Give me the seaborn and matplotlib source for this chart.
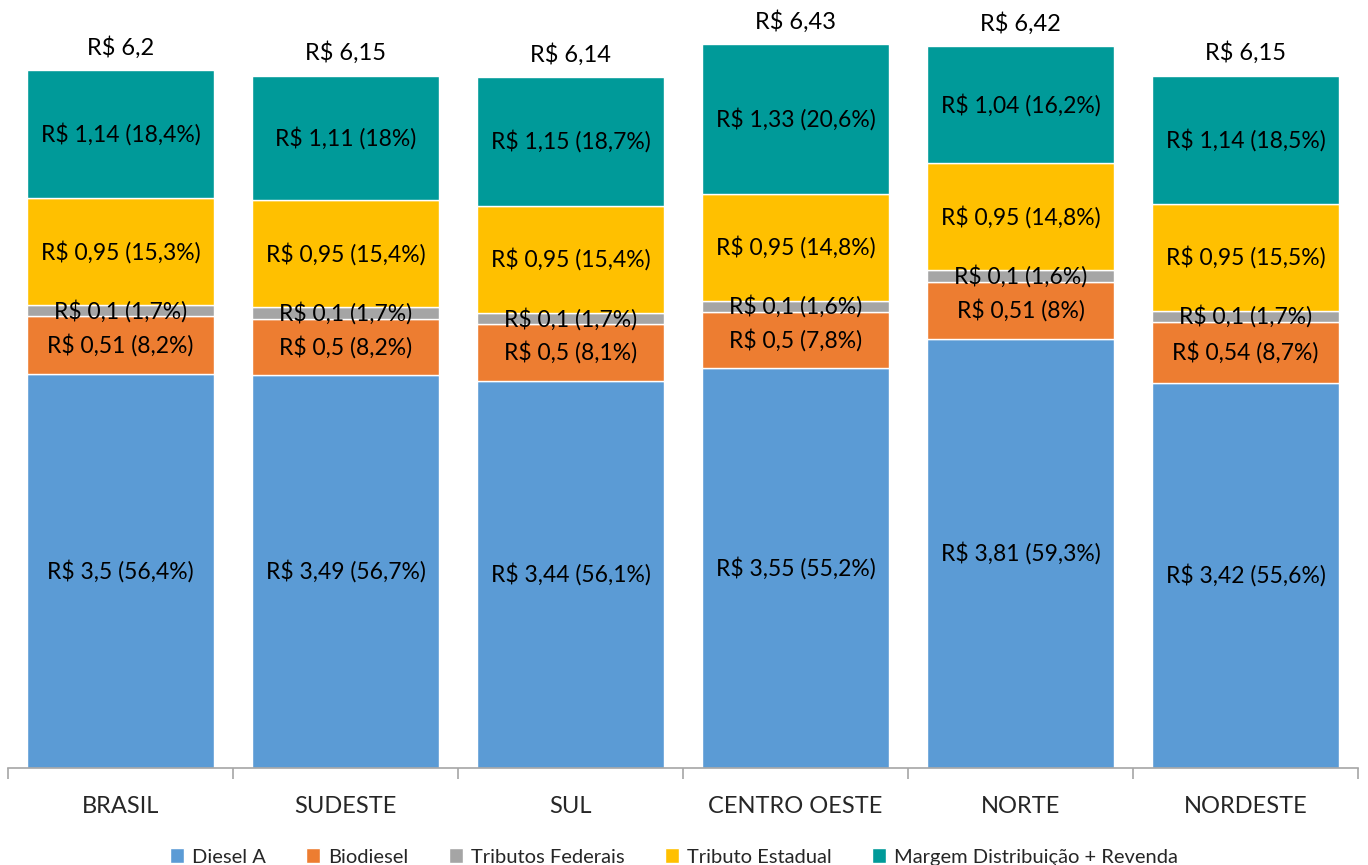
import matplotlib
import numpy as np
import matplotlib.pyplot as plt
plt.switch_backend('agg')
import pandas as pd
import seaborn as sns

regions = ['BRASIL', 'SUDESTE', 'SUL', 'CENTRO OESTE', 'NORTE', 'NORDESTE']
series = ['Diesel A', 'Biodiesel', 'Tributos Federais', 'Tributo Estadual', 'Margem Distribuição + Revenda']

diesel_a = [3.5, 3.49, 3.44, 3.55, 3.81, 3.42]
biodiesel = [0.51, 0.5, 0.5, 0.5, 0.51, 0.54]
trib_fed = [0.1, 0.1, 0.1, 0.1, 0.1, 0.1]
trib_est = [0.95, 0.95, 0.95, 0.95, 0.95, 0.95]
margem = [1.14, 1.11, 1.15, 1.33, 1.04, 1.14]
totals = ['6,2', '6,15', '6,14', '6,43', '6,42', '6,15']

pct_diesel_a = ['56,4', '56,7', '56,1', '55,2', '59,3', '55,6']
pct_biodiesel = ['8,2', '8,2', '8,1', '7,8', '8', '8,7']
pct_trib_fed = ['1,7', '1,7', '1,7', '1,6', '1,6', '1,7']
pct_trib_est = ['15,3', '15,4', '15,4', '14,8', '14,8', '15,5']
pct_margem = ['18,4', '18', '18,7', '20,6', '16,2', '18,5']

colors = ['#5B9BD5', '#ED7D31', '#A5A5A5', '#FFC000', '#009A99']

sns.set_style('white')
plt.rcParams['font.family'] = ['Lato', 'DejaVu Sans']

values = [diesel_a, biodiesel, trib_fed, trib_est, margem]
pcts = [pct_diesel_a, pct_biodiesel, pct_trib_fed, pct_trib_est, pct_margem]

fig = plt.figure(figsize=(13.68, 8.65), dpi=100)
ax = fig.add_axes([8 / 1368, 97 / 865, 1350 / 1368, 6.8 * 112.6 / 865])

bottom = np.zeros(len(regions))
for name, vals, pc, col in zip(series, values, pcts, colors):
    df = pd.DataFrame({'regiao': regions, 'valor': vals})
    sns.barplot(data=df, x='regiao', y='valor', bottom=bottom, color=col,
                width=0.83, edgecolor='white', linewidth=1, saturation=1,
                label=name, ax=ax)
    for i, v in enumerate(vals):
        txt = 'R$ ' + str(v).replace('.', ',') + ' (' + pc[i] + '%)'
        ax.text(i, bottom[i] + v / 2, txt, ha='center', va='center',
                fontsize=16.5, color='black')
    bottom = bottom + np.array(vals)

for i, t in enumerate(totals):
    ax.text(i, bottom[i] + 0.1, 'R$ ' + t, ha='center', va='bottom',
            fontsize=17, color='black')

ax.set_xlim(-0.5, len(regions) - 0.5)
ax.set_ylim(0, 6.8)
ax.set_xlabel('')
ax.set_ylabel('')
ax.set_yticks([])
for s in ['left', 'right', 'top']:
    ax.spines[s].set_visible(False)
ax.spines['bottom'].set_color('#A6A6A6')
ax.spines['bottom'].set_linewidth(1.2)

ax.set_xticks(range(len(regions)))
ax.set_xticklabels(regions, fontsize=17)
ax.tick_params(axis='x', which='major', length=0, pad=20)
ax.set_xticks(np.arange(-0.5, len(regions)), minor=True)
ax.tick_params(axis='x', which='minor', bottom=True, length=8, width=1.2,
               color='#A6A6A6', direction='out')

ax.legend(loc='center', bbox_to_anchor=(674 / 1368, 8 / 865), bbox_transform=fig.transFigure,
          ncol=5, frameon=False, fontsize=14.5, handlelength=0.7, handleheight=0.7,
          handletextpad=0.4, columnspacing=2.0)

fig.savefig('out.png', dpi=100)
